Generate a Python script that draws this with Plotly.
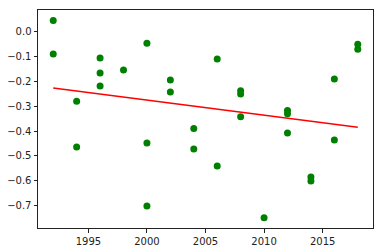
import numpy as np
import plotly.graph_objects as go

years = [1992, 1992, 1994, 1994, 1996, 1996, 1996, 1998, 2000, 2000, 2000,
         2002, 2002, 2004, 2004, 2006, 2006, 2008, 2008, 2008, 2010,
         2012, 2012, 2012, 2014, 2014, 2016, 2016, 2018, 2018]
values = [0.044, -0.091, -0.280, -0.464, -0.107, -0.167, -0.219, -0.155,
          -0.047, -0.448, -0.701, -0.195, -0.243, -0.390, -0.472, -0.111,
          -0.541, -0.238, -0.251, -0.343, -0.749, -0.318, -0.331, -0.408,
          -0.585, -0.601, -0.191, -0.436, -0.051, -0.071]

slope, intercept = np.polyfit(years, values, 1)
line_x = [min(years), max(years)]
line_y = [slope * x + intercept for x in line_x]

fig = go.Figure()
fig.add_trace(go.Scatter(x=years, y=values, mode="markers",
                         marker=dict(color="#008000", size=7, line=dict(width=0)),
                         showlegend=False))
fig.add_trace(go.Scatter(x=line_x, y=line_y, mode="lines",
                         line=dict(color="red", width=1.5), showlegend=False))

axis_common = dict(showgrid=False, zeroline=False, showline=True, linecolor="#222",
                   linewidth=1, mirror=True, ticks="outside", ticklen=3.5,
                   tickcolor="#222", automargin=False,
                   tickfont=dict(family="DejaVu Sans", size=10, color="#222"))
fig.update_xaxes(range=[1990.7, 2019.3], tickvals=[1995, 2000, 2005, 2010, 2015], **axis_common)
fig.update_yaxes(range=[-0.7897, 0.0863], tickvals=[0.0, -0.1, -0.2, -0.3, -0.4, -0.5, -0.6, -0.7],
                 tickformat=".1f", **axis_common)
fig.update_layout(width=383, height=252, margin=dict(l=38, r=10, t=10, b=24),
                  plot_bgcolor="white", paper_bgcolor="white")
fig.write_html("out.html", config={"displayModeBar": False},
               post_script="document.body.style.margin='0';document.body.style.overflow='hidden';")
